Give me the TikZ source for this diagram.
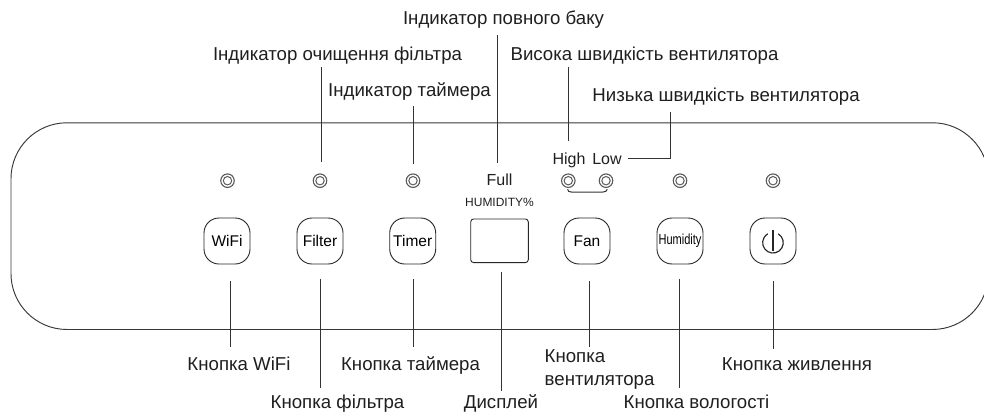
\documentclass[tikz,border=0pt]{standalone}
\usepackage{fontspec}
\usetikzlibrary{calc}
\setmainfont{Liberation Sans}
\tikzset{
 lbl/.style={inner sep=0pt,anchor=base,font=\fontsize{18.65}{22}\selectfont,text=black!88},
 ln/.style={draw=black!80,line width=1pt},
 btn/.style={draw=black!85,line width=0.9pt,rounded corners=15pt,minimum width=46pt,minimum height=46pt,inner sep=0pt,font=\fontsize{15.5}{18}\selectfont},
 led/.style={circle,draw=black!65,line width=1.1pt,minimum size=13.5pt,inner sep=0pt,path picture={\draw[black!65,line width=1pt] (path picture bounding box.center) circle (4.2pt);}},
 panel/.style={draw=black!78,line width=0.95pt,rounded corners=56pt}
}
\begin{document}
\begin{tikzpicture}[x=1pt,y=-1pt]
\useasboundingbox (0,0) rectangle (984,412);
\clip (0,0) rectangle (984,412);
\node[panel,minimum width=977.5pt,minimum height=206.7pt,anchor=north west,inner sep=0pt] (body) at (10.5,122.3) {};
% LEDs
\node[led] (l1) at (227.5,180.7) {};
\node[led] (l2) at (320,180.7) {};
\node[led] (l3) at (413,180.7) {};
\node[led] (l4) at (568.3,180.7) {};
\node[led] (l5) at (606,180.7) {};
\node[led] (l6) at (680,180.7) {};
\node[led] (l7) at (773,180.7) {};
% buttons
\node[btn] (bw) at (227,241) {WiFi};
\node[btn] (bf) at (320,241) {Filter};
\node[btn] (bt) at (412.7,241) {Timer};
\node[btn] (ba) at (587,241) {Fan};
\node[btn] (bh) at (680,241) {\scalebox{0.76}[1]{\fontsize{14.5}{16}\selectfont Humidity}};
\node[btn] (bp) at (773,241) {};
\draw[black!85,line width=1.15pt] ($(bp.center)+(5.1,-7.2)$) arc[start angle=60,end angle=-240,radius=10.3pt];
\path (bp.center) ++(0,-11) coordinate (pt) ++(0,20.5) coordinate (pb);
\draw[black!85,line width=1.15pt] (pt) -- (pb);
\node[draw=black!85,line width=0.9pt,rounded corners=3pt,minimum width=57.6pt,minimum height=43.7pt,inner sep=0pt] (disp) at (499.5,240.8) {};
% fixed texts
\node[lbl,font=\fontsize{16}{18}\selectfont] (full) at (499.5,185.7) {Full};
\node[lbl,font=\fontsize{12}{14}\selectfont] (hum) at (499.5,206.9) {HUMIDITY\%};
\node[lbl,font=\fontsize{16}{18}\selectfont] (high) at (569,164.5) {High};
\node[lbl,font=\fontsize{16}{18}\selectfont] (low) at (607,164.5) {Low};
% labels
\node[lbl] (t1) at (337.5,60) {Індикатор очищення фільтра};
\node[lbl] (t2) at (409.5,96.7) {Індикатор таймера};
\node[lbl] (t3) at (503.5,25) {Індикатор повного баку};
\node[lbl] (t4) at (644.5,60) {Висока швидкість вентилятора};
\node[lbl] (t5) at (726,101) {Низька швидкість вентилятора};
\node[lbl] (b1) at (239,370) {Кнопка WiFi};
\node[lbl] (b2) at (337.5,408.7) {Кнопка фільтра};
\node[lbl] (b3) at (410.5,370) {Кнопка таймера};
\node[lbl] (b4) at (501,408.7) {Дисплей};
\node[lbl,anchor=base west] (b5a) at (544.5,362.7) {Кнопка};
\node[lbl,anchor=base west] (b5b) at (544.5,385) {вентилятора};
\node[lbl] (b6) at (696.5,408.7) {Кнопка вологості};
\node[lbl] (b7) at (797,370) {Кнопка живлення};
% connector ends
\coordinate (c2a) at (321,67); \coordinate (c2b) at (321,162);
\coordinate (c3a) at (413,106); \coordinate (c3b) at (413,163.5);
\coordinate (c4a) at (497.7,35); \coordinate (c4b) at (497.7,163);
\coordinate (c5a) at (568.7,67); \coordinate (c5b) at (568.7,140.7);
\coordinate (c6a) at (670.7,112); \coordinate (c6b) at (670.7,158.3); \coordinate (c6c) at (627.7,158.3);
\coordinate (d1a) at (230,281); \coordinate (d1b) at (230,347);
\coordinate (d2a) at (320,279); \coordinate (d2b) at (320,388);
\coordinate (d3a) at (413,279); \coordinate (d3b) at (413,347);
\coordinate (d4a) at (501,272); \coordinate (d4b) at (501,391);
\coordinate (d5a) at (589,281); \coordinate (d5b) at (589,347);
\coordinate (d6a) at (679.5,279); \coordinate (d6b) at (679.5,388);
\coordinate (d7a) at (773,281); \coordinate (d7b) at (773,349);
\draw[ln] (c2a)--(c2b);
\draw[ln] (c3a)--(c3b);
\draw[ln] (c4a)--(c4b);
\draw[ln] (c5a)--(c5b);
\draw[ln] (c6a)--(c6b)--(c6c);
\draw[ln] (d1a)--(d1b);
\draw[ln] (d2a)--(d2b);
\draw[ln] (d3a)--(d3b);
\draw[ln] (d4a)--(d4b);
\draw[ln] (d5a)--(d5b);
\draw[ln] (d6a)--(d6b);
\draw[ln] (d7a)--(d7b);
% bracket
\draw[ln] ($(l4)+(-0.7,8.5)$) .. controls ($(l4)+(-0.3,10.5)$) and ($(l4)+(0.5,11.3)$) .. ($(l4)+(3,11.3)$) -- ($(l5)+(-3,11.3)$) .. controls ($(l5)+(-0.5,11.3)$) and ($(l5)+(0.8,10.5)$) .. ($(l5)+(1.2,8.5)$);
\end{tikzpicture}
\end{document}
